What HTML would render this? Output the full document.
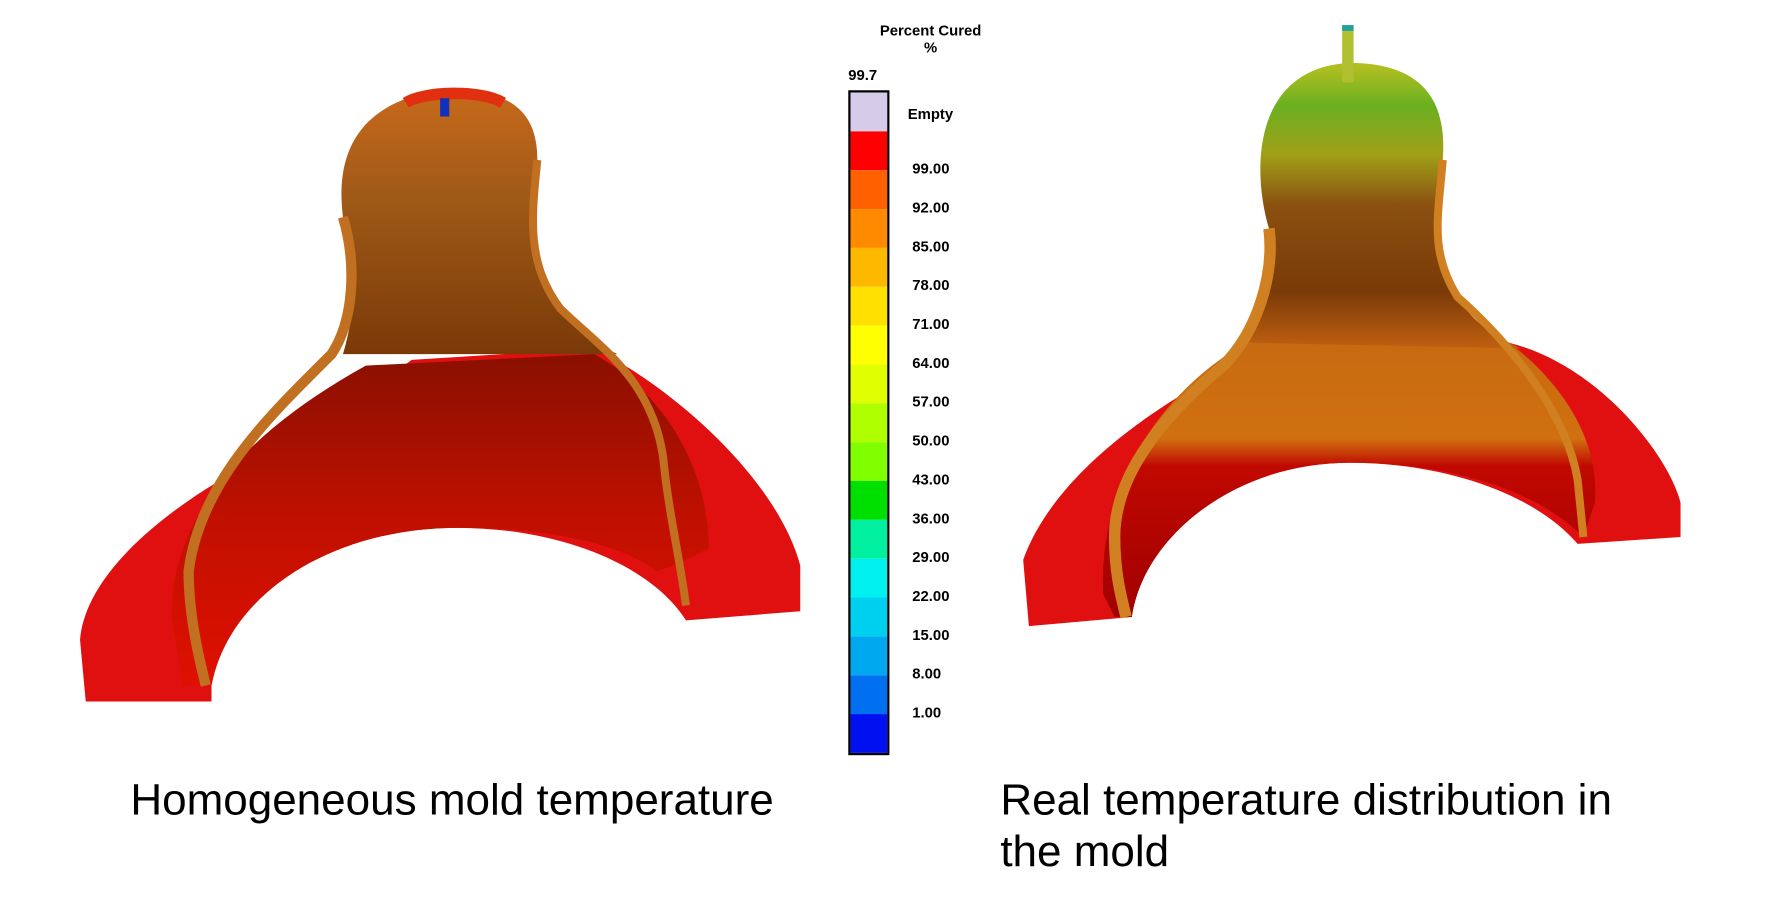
<!DOCTYPE html>
<html><head><meta charset="utf-8"><style>
html,body{margin:0;padding:0;background:#fff;width:1772px;height:906px;overflow:hidden}
svg{display:block}
</style></head><body>
<svg width="1772" height="906" viewBox="0 0 1550 793" xmlns="http://www.w3.org/2000/svg" preserveAspectRatio="none">
<defs>
<linearGradient id="neckL" x1="0" y1="0" x2="0" y2="1">
<stop offset="0" stop-color="#c86a1a"/><stop offset="0.4" stop-color="#a05a18"/><stop offset="1" stop-color="#7a3a08"/>
</linearGradient>
<linearGradient id="bandL" x1="0" y1="0" x2="0" y2="1">
<stop offset="0" stop-color="#8a1000"/><stop offset="0.5" stop-color="#c01000"/><stop offset="1" stop-color="#e01000"/>
</linearGradient>
<linearGradient id="neckR" x1="0" y1="0" x2="0" y2="1">
<stop offset="0" stop-color="#b8c020"/><stop offset="0.15" stop-color="#6ab020"/><stop offset="0.32" stop-color="#a0a018"/><stop offset="0.5" stop-color="#8a5010"/><stop offset="0.8" stop-color="#7a3a08"/><stop offset="1" stop-color="#c06010"/>
</linearGradient>
<linearGradient id="bandR" x1="0" y1="0" x2="0" y2="1">
<stop offset="0" stop-color="#c86a10"/><stop offset="0.35" stop-color="#d07010"/><stop offset="0.45" stop-color="#c00800"/><stop offset="1" stop-color="#a00000"/>
</linearGradient>
</defs>

<!-- LEFT MOLD -->
<path d="M70,560 C75,500 150,440 230,400 C300,360 340,330 360,315 L520,305 C590,340 680,420 700,495 L700,535 L600,543 C570,495 490,462 400,462 C290,462 200,520 185,600 L185,614 L75,614 Z" fill="#e01010"/>
<path d="M150,540 C150,440 230,370 320,320 L520,310 C590,350 620,420 620,480 C600,490 590,495 575,500 C540,475 480,462 400,462 C290,462 200,520 185,600 L160,600 Z" fill="url(#bandL)"/>
<path d="M300,310 C312,270 312,230 300,190 C295,150 300,90 390,78 C450,78 470,100 470,140 C465,190 460,230 490,270 C505,290 520,300 540,310 Z" fill="url(#neckL)"/>
<path d="M300,190 C312,230 310,280 290,310 C240,360 175,420 165,500 C165,540 175,580 180,600" fill="none" stroke="#c07020" stroke-width="9"/>
<path d="M470,140 C465,190 460,230 490,270 C520,300 570,330 580,400 C585,450 595,490 600,530" fill="none" stroke="#c07020" stroke-width="7"/>
<path d="M355,90 C370,80 420,78 440,90" fill="none" stroke="#e03010" stroke-width="10"/>
<rect x="385" y="86" width="8" height="16" fill="#1030c0"/>

<!-- RIGHT MOLD -->
<path d="M895,490 C920,420 1000,360 1080,320 L1090,300 L1320,300 C1400,320 1460,400 1470,440 L1470,470 L1380,476 C1340,430 1260,405 1180,405 C1080,405 1000,470 990,540 L900,548 Z" fill="#e01010"/>
<path d="M965,520 C960,420 1020,340 1090,300 L1320,300 C1360,330 1400,380 1395,440 L1385,470 C1340,425 1260,405 1180,405 C1080,405 1000,470 990,540 L975,540 Z" fill="url(#bandR)"/>
<path d="M1090,300 C1110,260 1115,230 1110,200 C1095,150 1095,60 1180,55 C1255,55 1265,100 1262,140 C1258,190 1250,220 1275,260 C1290,285 1310,295 1330,305 Z" fill="url(#neckR)"/>
<path d="M1110,200 C1115,240 1100,290 1070,320 C1010,370 975,420 975,470 C975,500 980,520 985,540" fill="none" stroke="#d08020" stroke-width="10"/>
<path d="M1262,140 C1258,190 1250,220 1275,260 C1320,300 1370,360 1380,420 L1385,470" fill="none" stroke="#d08020" stroke-width="7"/>
<rect x="1174" y="22" width="10" height="50" fill="#b0c030"/>
<rect x="1174" y="22" width="10" height="5" fill="#20a0a0"/>

<!-- COLOR BAR -->
<g font-family="'Liberation Sans',sans-serif" font-weight="bold" fill="#000">
<text x="814" y="31" font-size="13" text-anchor="middle">Percent Cured</text>
<text x="814" y="46" font-size="13" text-anchor="middle">%</text>
<text x="742" y="70" font-size="13">99.7</text>
<rect x="743" y="80" width="34" height="580" fill="none" stroke="#000" stroke-width="2"/>
<rect x="744" y="81" width="32" height="34" fill="#d4cce8"/>
<rect x="744" y="115" width="32" height="34" fill="#ff0000"/>
<rect x="744" y="149" width="32" height="34" fill="#ff6000"/>
<rect x="744" y="183" width="32" height="34" fill="#ff8a00"/>
<rect x="744" y="217" width="32" height="34" fill="#ffb800"/>
<rect x="744" y="251" width="32" height="34" fill="#ffe000"/>
<rect x="744" y="285" width="32" height="34" fill="#ffff00"/>
<rect x="744" y="319" width="32" height="34" fill="#e0ff00"/>
<rect x="744" y="353" width="32" height="34" fill="#b0ff00"/>
<rect x="744" y="387" width="32" height="34" fill="#80ff00"/>
<rect x="744" y="421" width="32" height="34" fill="#00e000"/>
<rect x="744" y="455" width="32" height="34" fill="#00f0a0"/>
<rect x="744" y="489" width="32" height="34" fill="#00f0f0"/>
<rect x="744" y="523" width="32" height="34" fill="#00d0f0"/>
<rect x="744" y="557" width="32" height="34" fill="#00a8f0"/>
<rect x="744" y="591" width="32" height="34" fill="#0070f0"/>
<rect x="744" y="625" width="32" height="34" fill="#0010f0"/>
<g font-size="13">
<text x="794" y="104">Empty</text>
<text x="798" y="152">99.00</text>
<text x="798" y="186">92.00</text>
<text x="798" y="220">85.00</text>
<text x="798" y="254">78.00</text>
<text x="798" y="288">71.00</text>
<text x="798" y="322">64.00</text>
<text x="798" y="356">57.00</text>
<text x="798" y="390">50.00</text>
<text x="798" y="424">43.00</text>
<text x="798" y="458">36.00</text>
<text x="798" y="492">29.00</text>
<text x="798" y="526">22.00</text>
<text x="798" y="560">15.00</text>
<text x="798" y="594">8.00</text>
<text x="798" y="628">1.00</text>
</g>
</g>

<g font-family="'Liberation Sans',sans-serif" font-size="38.5" fill="#000">
<text x="114" y="713">Homogeneous mold temperature</text>
<text x="875" y="713">Real temperature distribution in</text>
<text x="875" y="758">the mold</text>
</g>
</svg>
</body></html>
